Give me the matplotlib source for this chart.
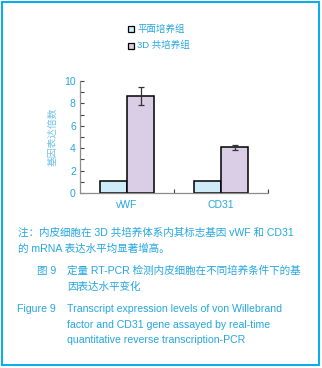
import matplotlib
matplotlib.use("Agg")
import matplotlib.pyplot as plt
from matplotlib.patches import Rectangle
import numpy as np

plt.rcParams['font.family'] = ['Liberation Sans', 'Noto Sans CJK SC', 'DejaVu Sans']

categories = ["vWF", "CD31"]
series_names = ["平面培养组", "3D 共培养组"]
flat_vals = [1.1, 1.1]
coc_vals = [8.65, 4.1]
coc_err = [0.78, 0.22]
yticks = [0, 2, 4, 6, 8, 10]

TXT = '#25a6df'
YLAB = '#6cc2ea'
C_FLAT = '#cdebf8'
C_3D = '#dacde6'
BORDER = '#00aeef'
SPINE = '#8c8c8c'
TICK = '#404040'

W, H = 322, 368
fig = plt.figure(figsize=(W / 100, H / 100), dpi=100)

# border
fig.patches.append(Rectangle((1.5 / W, 1 - 364.5 / H), 317 / W, 363 / H,
                             transform=fig.transFigure, fill=False,
                             edgecolor=BORDER, linewidth=1.4))

ax = fig.add_axes([80 / W, 1 - 193 / H, 188 / W, 112 / H])
x = np.arange(len(categories)) + 0.5
bw = 0.29
ax.bar(x - 0.145, flat_vals, bw, color=C_FLAT, edgecolor='black', linewidth=1.1, zorder=2)
ax.bar(x + 0.145, coc_vals, bw, color=C_3D, edgecolor='black', linewidth=1.1, zorder=2)
ax.errorbar(x + 0.145, coc_vals, yerr=coc_err, fmt='none', ecolor='#333333',
            elinewidth=0.9, capsize=2.5, capthick=0.9, zorder=3)

ax.set_xlim(0, 2)
ax.set_ylim(0, 10)
ax.set_yticks(yticks)
ax.set_yticks(range(0, 11), minor=True)
ax.tick_params(axis='y', which='both', direction='in', length=3, width=0.8,
               color=TICK, labelsize=7.5, labelcolor=TXT, pad=3)
ax.set_xticks([1, 2], minor=True)
ax.set_xticks(x)
ax.set_xticklabels(categories)
ax.tick_params(axis='x', which='major', length=0, labelsize=7.5, labelcolor=TXT, pad=5)
ax.tick_params(axis='x', which='minor', length=3, width=0.8, color=TICK, direction='in')
for s in ['top', 'right']:
    ax.spines[s].set_visible(False)
for s in ['left', 'bottom']:
    ax.spines[s].set_color(SPINE)
    ax.spines[s].set_linewidth(0.9)
ax.set_ylabel("基因表达倍数", fontsize=7, color=YLAB, labelpad=5,
              family=['Noto Sans CJK SC', 'DejaVu Sans'])

# legend
for i, (name, c) in enumerate(zip(series_names, [C_FLAT, C_3D])):
    yc = 29 + i * 16.5
    fig.patches.append(Rectangle((127.5 / W, 1 - (yc + 3) / H), 6 / W, 6 / H,
                                 transform=fig.transFigure, facecolor=c,
                                 edgecolor='black', linewidth=0.9))
    fig.text(137 / W, 1 - yc / H, name, fontsize=6.8, color=TXT, va='center', ha='left',
             family=['Liberation Sans', 'Noto Sans CJK SC'])

cap_font = ['Liberation Sans', 'Noto Sans CJK SC']
lines = [
    (18, 233, "注：内皮细胞在 3D 共培养体系内其标志基因 vWF 和 CD31"),
    (18, 249, "的 mRNA 表达水平均显著增高。"),
    (37, 271, "图 9"),
    (67, 271, "定量 RT-PCR 检测内皮细胞在不同培养条件下的基"),
    (67, 287, "因表达水平变化"),
    (17, 309, "Figure 9"),
    (67, 309, "Transcript expression levels of von Willebrand"),
    (67, 325, "factor and CD31 gene assayed by real-time"),
    (67, 340, "quantitative reverse transcription-PCR"),
]
for lx, ly, t in lines:
    fig.text(lx / W, 1 - ly / H, t, fontsize=7.6, color=TXT, va='center', ha='left',
             family=cap_font)

fig.savefig("out.png", dpi=100)
